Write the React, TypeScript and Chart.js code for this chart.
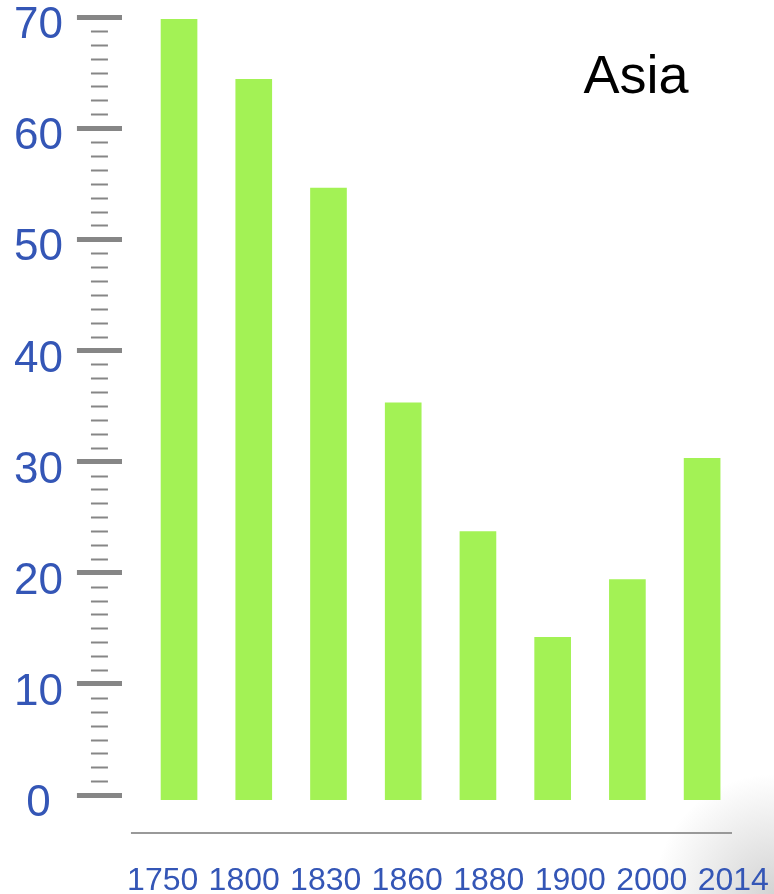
import React, { useEffect, useRef } from 'react';
import { Chart, registerables } from 'chart.js';

Chart.register(...registerables);

const categories = ['1750', '1800', '1830', '1860', '1880', '1900', '2000', '2014'];
const shares = [69.8, 64.4, 54.6, 35.3, 23.7, 14.2, 19.4, 30.3];
const yTickValues = [0, 10, 20, 30, 40, 50, 60, 70];
const minorStep = 1.25;
const chartTitle = 'Asia';

const FONT = '"Liberation Sans", Arial, Helvetica, sans-serif';
const BLUE = '#3456b6';
const GREEN = '#a3f255';
const TICK_GRAY = '#868686';

const decorPlugin = {
  id: 'decor',
  beforeDatasetsDraw(chart: any) {
    const { ctx, chartArea, scales } = chart;
    const y = scales.y;
    ctx.save();
    // minor tick marks
    ctx.strokeStyle = TICK_GRAY;
    ctx.lineWidth = 2;
    const maxV = yTickValues[yTickValues.length - 1];
    for (let v = yTickValues[0]; v < maxV; v += minorStep) {
      if (Math.abs(v % 10) < 1e-6) continue;
      const py = Math.round(y.getPixelForValue(v)) + 0.5;
      ctx.beginPath();
      ctx.moveTo(chartArea.left - 31, py);
      ctx.lineTo(chartArea.left - 14, py);
      ctx.stroke();
    }
    // baseline line
    ctx.strokeStyle = '#999999';
    ctx.lineWidth = 2;
    ctx.beginPath();
    ctx.moveTo(chartArea.left + 9, chartArea.bottom - 1);
    ctx.lineTo(chartArea.right - 42, chartArea.bottom - 1);
    ctx.stroke();
    // title
    ctx.fillStyle = '#000000';
    ctx.font = `54px ${FONT}`;
    ctx.textAlign = 'center';
    ctx.textBaseline = 'alphabetic';
    ctx.fillText(chartTitle, chartArea.right - 138, chartArea.top + 76);
    ctx.restore();
  },
};

export default function App() {
  const canvasRef = useRef<HTMLCanvasElement | null>(null);

  useEffect(() => {
    if (!canvasRef.current) return;
    const chart = new Chart(canvasRef.current, {
      type: 'bar',
      data: {
        labels: categories,
        datasets: [
          {
            label: chartTitle,
            data: shares.map((v, i) => ({ x: i, y: v })) as any,
            xAxisID: 'xb',
            yAxisID: 'y',
            backgroundColor: GREEN,
            borderWidth: 0,
            barThickness: 36,
            base: -0.4,
          } as any,
        ],
      },
      options: {
        animation: false,
        responsive: false,
        devicePixelRatio: 1,
        layout: { padding: { left: 0, top: 17, right: 0, bottom: 0 } },
        plugins: {
          legend: { display: false },
          tooltip: { enabled: false },
          title: { display: false },
        },
        scales: {
          x: {
            type: 'category',
            position: 'bottom',
            offset: true,
            grid: {
              display: true,
              drawOnChartArea: false,
              drawTicks: true,
              tickLength: 35,
              tickColor: 'rgba(0,0,0,0)',
            },
            border: { display: false },
            ticks: {
              color: BLUE,
              font: { family: FONT, size: 32, lineHeight: 0.78 },
              padding: 0,
              autoSkip: false,
              maxRotation: 0,
              minRotation: 0,
            },
          },
          xb: {
            type: 'linear',
            display: false,
            offset: false,
            bounds: 'data',
            grace: 0,
            min: -0.764,
            max: 7.962,
            grid: { offset: false },
          },
          y: {
            type: 'linear',
            position: 'left',
            min: -3.5,
            max: 70,
            afterBuildTicks: (scale: any) => {
              scale.ticks = yTickValues.map((v) => ({ value: v }));
            },
            grid: {
              display: true,
              drawOnChartArea: false,
              drawTicks: true,
              tickLength: 45,
              tickWidth: 5,
              tickColor: TICK_GRAY,
            },
            border: { display: false },
            ticks: {
              color: BLUE,
              font: { family: FONT, size: 44, lineHeight: 0.1 },
              padding: 14,
              labelOffset: 9,
              crossAlign: 'center',
            },
          },
        } as any,
      },
      plugins: [decorPlugin],
    });
    return () => chart.destroy();
  }, []);

  return (
    <div
      style={{
        position: 'absolute',
        left: 0,
        top: 0,
        width: 774,
        height: 894,
        background:
          'radial-gradient(circle at 100% 100%, rgba(130,130,130,0.35) 0px, rgba(255,255,255,0) 120px), #ffffff',
      }}
    >
      <canvas ref={canvasRef} width={774} height={894} />
    </div>
  );
}
